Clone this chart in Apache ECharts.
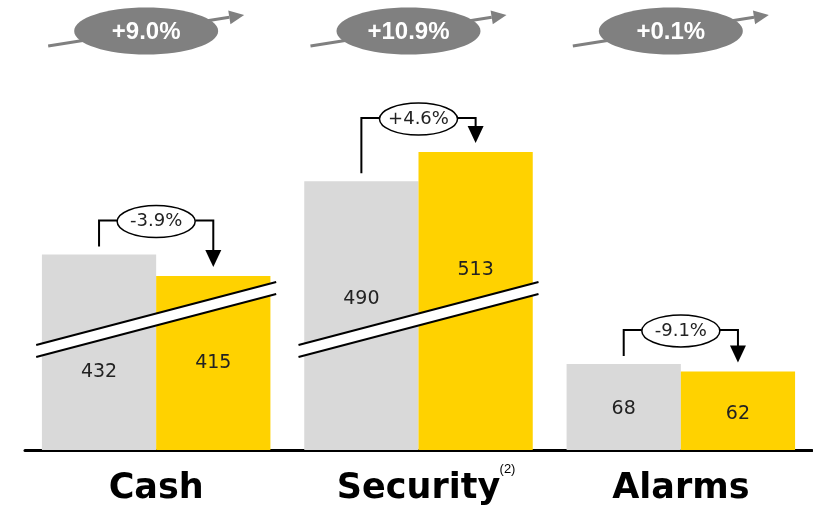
<!DOCTYPE html>
<html>
<head>
<meta charset="utf-8">
<script src="https://cdn.jsdelivr.net/npm/echarts@6/dist/echarts.min.js"></script>
<style>
  html, body { margin: 0; padding: 0; background: #fff; }
  #chart { width: 813px; height: 517px; }
</style>
</head>
<body>
<div id="chart"></div>
<script>
const categories = ['Cash', 'Security', 'Alarms'];
const priorValues = [432, 490, 68];
const currentValues = [415, 513, 62];
const changeLabels = ['-3.9%', '+4.6%', '-9.1%'];
const growthLabels = ['+9.0%', '+10.9%', '+0.1%'];
const footnotes = ['', '(2)', ''];

// the value axis is cut between these two values (drawn as slanted bands)
const breakStart = 110;
const breakEnd = 387.5;

const GREY = '#d9d9d9';
const YELLOW = '#ffd200';
const DARK = '#808080';
const FONT = '"DejaVu Sans", sans-serif';

// label distance from the baseline, per bar
const priorLabelDist = [68, 141, 31];
const currentLabelDist = [77, 170, 26];

function barData(values, dists) {
    return values.map((v, i) => ({
        value: v,
        label: { distance: dists[i] }
    }));
}

const chart = echarts.init(document.getElementById('chart'));

let option = {
    animation: false,
    grid: { left: 25, right: 1, top: 67.3, bottom: 67 },
    xAxis: {
        type: 'category',
        data: categories,
        axisLine: { lineStyle: { color: '#000', width: 3 } },
        axisTick: { show: false },
        axisLabel: {
            color: '#000',
            fontFamily: FONT,
            fontWeight: 'bold',
            fontSize: 35,
            lineHeight: 40,
            margin: 19
        }
    },
    yAxis: {
        type: 'value',
        min: 0,
        max: 580,
        axisLine: { show: false },
        axisTick: { show: false },
        axisLabel: { show: false },
        splitLine: { show: false },
        breaks: [{ start: breakStart, end: breakEnd, gap: 0 }],
        breakArea: {
            show: false,
            itemStyle: { opacity: 0, borderWidth: 0 }
        }
    },
    series: [
        {
            name: 'prior',
            type: 'bar',
            barGap: 0,
            barCategoryGap: '12.9%',
            itemStyle: { color: GREY },
            label: {
                show: true,
                position: 'insideBottom',
                color: '#222',
                fontFamily: FONT,
                fontSize: 19,
                lineHeight: 20
            },
            data: barData(priorValues, priorLabelDist)
        },
        {
            name: 'current',
            type: 'bar',
            itemStyle: { color: YELLOW },
            label: {
                show: true,
                position: 'insideBottom',
                color: '#222',
                fontFamily: FONT,
                fontSize: 19,
                lineHeight: 20
            },
            data: barData(currentValues, currentLabelDist)
        }
    ]
};

chart.setOption(option);

function layoutOf(seriesIndex, i) {
    let l = chart.getModel().getSeriesByIndex(seriesIndex).getData().getItemLayout(i);
    let top = Math.min(l.y, l.y + l.height);
    let bottom = Math.max(l.y, l.y + l.height);
    return { cx: l.x + l.width / 2, left: l.x, right: l.x + l.width, top: top, bottom: bottom };
}

function buildGraphics() {
    let els = [];
    categories.forEach((name, i) => {
        let g = layoutOf(0, i);
        let c = layoutOf(1, i);
        let cx = (g.right + c.left) / 2;
        let base = g.bottom;

        // growth ellipse + arrow at the top
        let x0 = cx - 108, y0 = 46, tx = cx + 88, ty = 15;
        let len = Math.hypot(tx - x0, ty - y0);
        let ux = (tx - x0) / len, uy = (ty - y0) / len;
        let bx = tx - ux * 15, by = ty - uy * 15;
        els.push({
            type: 'polyline', z: 100,
            shape: { points: [[x0, y0], [bx, by]] },
            style: { stroke: DARK, lineWidth: 3, fill: null }
        });
        els.push({
            type: 'polygon', z: 100,
            shape: { points: [[tx, ty], [bx - uy * 7, by + ux * 7], [bx + uy * 7, by - ux * 7]] },
            style: { fill: DARK }
        });
        els.push({
            type: 'ellipse', z: 101,
            shape: { cx: cx - 10, cy: 31, rx: 72, ry: 23.5 },
            style: { fill: DARK }
        });
        els.push({
            type: 'text', z: 102, x: cx - 10, y: 32,
            style: {
                text: growthLabels[i], fill: '#fff',
                font: 'bold 24px "Liberation Sans", Arial, sans-serif',
                align: 'center', verticalAlign: 'middle'
            }
        });

        // bracket from prior bar to current bar
        let hy = Math.min(g.top, c.top) - 34;
        let erx = 39, ery = 16;
        els.push({
            type: 'polyline', z: 100,
            shape: { points: [[g.cx, g.top - 8], [g.cx, hy], [cx - erx, hy]] },
            style: { stroke: '#000', lineWidth: 2, fill: null }
        });
        els.push({
            type: 'polyline', z: 100,
            shape: { points: [[cx + erx, hy], [c.cx, hy], [c.cx, c.top - 24]] },
            style: { stroke: '#000', lineWidth: 2, fill: null }
        });
        els.push({
            type: 'polygon', z: 100,
            shape: { points: [[c.cx - 8, c.top - 26], [c.cx + 8, c.top - 26], [c.cx, c.top - 9]] },
            style: { fill: '#000' }
        });
        els.push({
            type: 'ellipse', z: 101,
            shape: { cx: cx, cy: hy + 1, rx: erx, ry: ery },
            style: { fill: '#fff', stroke: '#000', lineWidth: 1.5 }
        });
        els.push({
            type: 'text', z: 102, x: cx, y: hy + 1,
            style: {
                text: changeLabels[i], fill: '#222',
                font: '18px ' + FONT,
                align: 'center', verticalAlign: 'middle'
            }
        });

        // slanted break band over bars that cross the axis cut
        if (Math.max(priorValues[i], currentValues[i]) > breakEnd) {
            let lx = cx - 120, rx = cx + 120;
            els.push({
                type: 'polygon', z: 100,
                shape: { points: [[lx, base - 105], [rx, base - 168], [rx, base - 156], [lx, base - 93]] },
                style: { fill: '#fff' }
            });
            els.push({
                type: 'polyline', z: 101,
                shape: { points: [[lx, base - 105], [rx, base - 168]] },
                style: { stroke: '#000', lineWidth: 2, fill: null }
            });
            els.push({
                type: 'polyline', z: 101,
                shape: { points: [[lx, base - 93], [rx, base - 156]] },
                style: { stroke: '#000', lineWidth: 2, fill: null }
            });
        }

        if (footnotes[i]) {
            els.push({
                type: 'text', z: 102, x: cx + 89, y: 469,
                style: {
                    text: footnotes[i], fill: '#000',
                    font: '13px "Liberation Sans", Arial, sans-serif',
                    align: 'center', verticalAlign: 'middle'
                }
            });
        }
    });
    chart.setOption({ graphic: els });
}

buildGraphics();
</script>
</body>
</html>
